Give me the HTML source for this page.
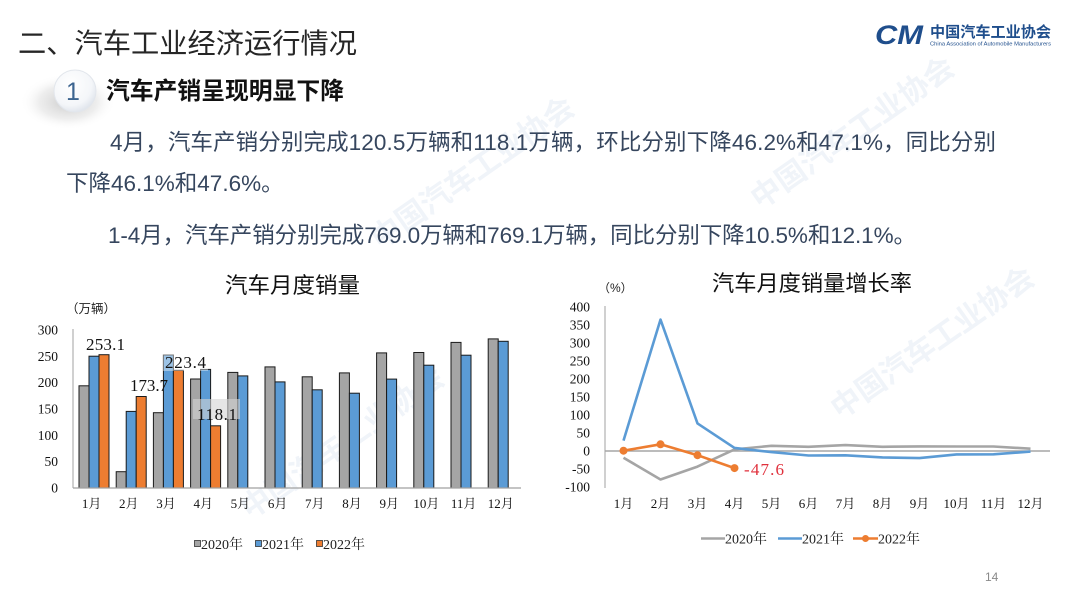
<!DOCTYPE html>
<html><head><meta charset="utf-8"><style>
html,body{margin:0;padding:0;background:#fff;}
svg{display:block;}
.cjk{font-family:"Liberation Sans","Noto Sans CJK SC",sans-serif;}
.ser{font-family:"Liberation Serif","Noto Serif CJK SC","Noto Sans CJK SC",serif;}
.mono{font-family:"Liberation Mono","Noto Sans CJK SC",monospace;}
</style></head><body>
<svg width="1080" height="604" viewBox="0 0 1080 604" xmlns="http://www.w3.org/2000/svg">
<defs>
<radialGradient id="sh" cx="0.5" cy="0.5" r="0.5">
<stop offset="0" stop-color="#c4c4c4" stop-opacity="0.9"/>
<stop offset="0.6" stop-color="#dcdcdc" stop-opacity="0.5"/>
<stop offset="1" stop-color="#ffffff" stop-opacity="0"/>
</radialGradient>
<radialGradient id="cg" cx="0.4" cy="0.35" r="0.7">
<stop offset="0" stop-color="#ffffff"/>
<stop offset="0.7" stop-color="#f4f6f9"/>
<stop offset="1" stop-color="#dde2ea"/>
</radialGradient>
</defs>
<rect width="1080" height="604" fill="#fff"/>

<!-- watermarks -->
<g class="cjk" fill="#f0f4f9" font-weight="bold" font-size="30">
<text x="380" y="250" transform="rotate(-35 380 250)">中国汽车工业协会</text>
<text x="760" y="210" transform="rotate(-35 760 210)">中国汽车工业协会</text>
<text x="250" y="520" transform="rotate(-35 250 520)">中国汽车工业协会</text>
<text x="840" y="420" transform="rotate(-35 840 420)">中国汽车工业协会</text>
</g>

<!-- header -->
<text class="cjk" x="18" y="53" font-size="28" fill="#262626" textLength="339" lengthAdjust="spacingAndGlyphs">二、汽车工业经济运行情况</text>

<!-- logo -->
<text x="875" y="44" font-family="Liberation Sans,sans-serif" font-size="27" font-weight="bold" font-style="italic" fill="#1f4e8c" textLength="48" lengthAdjust="spacingAndGlyphs">CM</text>
<text class="cjk" x="930" y="37" font-size="15" font-weight="bold" fill="#1f4e8c" textLength="121" lengthAdjust="spacingAndGlyphs">中国汽车工业协会</text>
<text x="930" y="45.5" font-family="Liberation Sans,sans-serif" font-size="5.5" fill="#1f4e8c" textLength="121" lengthAdjust="spacingAndGlyphs">China Association of Automobile Manufacturers</text>

<!-- section number -->
<ellipse cx="68" cy="102" rx="48" ry="28" fill="url(#sh)"/>
<circle cx="75" cy="91" r="21" fill="url(#cg)" stroke="#e2e6ec" stroke-width="1"/>
<text x="73" y="100" text-anchor="middle" font-family="Liberation Sans,sans-serif" font-size="25" fill="#3d6590">1</text>
<text class="cjk" x="106" y="99" font-size="24" font-weight="bold" fill="#111" textLength="238" lengthAdjust="spacingAndGlyphs">汽车产销呈现明显下降</text>

<!-- paragraph -->
<g class="cjk" font-size="22.5" fill="#36465e">
<text x="110" y="150" textLength="886" lengthAdjust="spacing">4月，汽车产销分别完成120.5万辆和118.1万辆，环比分别下降46.2%和47.1%，同比分别</text>
<text x="66" y="191">下降46.1%和47.6%。</text>
<text x="108" y="243" textLength="808" lengthAdjust="spacing">1-4月，汽车产销分别完成769.0万辆和769.1万辆，同比分别下降10.5%和12.1%。</text>
</g>

<!-- ===== LEFT CHART ===== -->
<text class="cjk" x="225" y="293" font-size="22" fill="#111" textLength="135" lengthAdjust="spacingAndGlyphs">汽车月度销量</text>
<text class="cjk" x="66" y="313" font-size="12.5" fill="#222">（万辆）</text>

<g class="ser" font-size="13.5" fill="#111" text-anchor="end">
<text x="58" y="334.5">300</text>
<text x="58" y="360.8">250</text>
<text x="58" y="387.2">200</text>
<text x="58" y="413.5">150</text>
<text x="58" y="439.8">100</text>
<text x="58" y="466.2">50</text>
<text x="58" y="492.5">0</text>
</g>
<line x1="73" y1="329" x2="73" y2="488" stroke="#a0a0a0" stroke-width="1"/>

<g stroke="#1a1a1a" stroke-width="1">
<g fill="#a5a5a5">
<rect x="79" y="385.8" width="10" height="102.2"/>
<rect x="116.2" y="471.7" width="10" height="16.3"/>
<rect x="153.4" y="412.7" width="10" height="75.3"/>
<rect x="190.6" y="379" width="10" height="109"/>
<rect x="227.8" y="372.4" width="10" height="115.6"/>
<rect x="265" y="366.9" width="10" height="121.1"/>
<rect x="302.2" y="376.8" width="10" height="111.2"/>
<rect x="339.4" y="372.9" width="10" height="115.1"/>
<rect x="376.6" y="352.9" width="10" height="135.1"/>
<rect x="413.8" y="352.5" width="10" height="135.5"/>
<rect x="451" y="342.4" width="10" height="145.6"/>
<rect x="488.2" y="338.9" width="10" height="149.1"/>
</g>
<g fill="#5b9bd5">
<rect x="89" y="356.2" width="10" height="131.8"/>
<rect x="126.2" y="411.4" width="10" height="76.6"/>
<rect x="163.4" y="355" width="10" height="133"/>
<rect x="200.6" y="369.4" width="10" height="118.6"/>
<rect x="237.8" y="375.9" width="10" height="112.1"/>
<rect x="275" y="381.9" width="10" height="106.1"/>
<rect x="312.2" y="389.8" width="10" height="98.2"/>
<rect x="349.4" y="393.2" width="10" height="94.8"/>
<rect x="386.6" y="379.1" width="10" height="108.9"/>
<rect x="423.8" y="365.2" width="10" height="122.8"/>
<rect x="461" y="355.2" width="10" height="132.8"/>
<rect x="498.2" y="341.3" width="10" height="146.7"/>
</g>
<g fill="#ed7d31">
<rect x="99" y="354.7" width="10" height="133.3"/>
<rect x="136.2" y="396.5" width="10" height="91.5"/>
<rect x="173.4" y="370.3" width="10" height="117.7"/>
<rect x="210.6" y="425.8" width="10" height="62.2"/>
</g>
</g>
<line x1="73" y1="488" x2="521" y2="488" stroke="#a0a0a0" stroke-width="1.2"/>

<!-- data labels -->
<rect x="163" y="352" width="45" height="19" fill="#ffffff" fill-opacity="0.4"/>
<rect x="193" y="399" width="47" height="20" fill="#d4d4d4" fill-opacity="0.6"/>
<g class="ser" font-size="17" fill="#111">
<text x="86" y="350" textLength="39" lengthAdjust="spacing">253.1</text>
<text x="130" y="391" textLength="38" lengthAdjust="spacing">173.7</text>
<text x="165" y="368" textLength="41" lengthAdjust="spacing">223.4</text>
<text x="197" y="420" textLength="40" lengthAdjust="spacing">118.1</text>
</g>

<g class="ser" font-size="13" fill="#111" text-anchor="middle">
<text x="91.6" y="508">1月</text>
<text x="128.8" y="508">2月</text>
<text x="166" y="508">3月</text>
<text x="203.2" y="508">4月</text>
<text x="240.4" y="508">5月</text>
<text x="277.6" y="508">6月</text>
<text x="314.8" y="508">7月</text>
<text x="352" y="508">8月</text>
<text x="389.2" y="508">9月</text>
<text x="426.4" y="508">10月</text>
<text x="463.6" y="508">11月</text>
<text x="500.8" y="508">12月</text>
</g>

<!-- left legend -->
<g stroke="#333" stroke-width="0.8">
<rect x="194.5" y="540.5" width="6" height="6" fill="#a5a5a5"/>
<rect x="255.5" y="540.5" width="6" height="6" fill="#5b9bd5"/>
<rect x="316.5" y="540.5" width="6" height="6" fill="#ed7d31"/>
</g>
<g class="ser" font-size="14" fill="#222">
<text x="201" y="549">2020年</text>
<text x="262" y="549">2021年</text>
<text x="323" y="549">2022年</text>
</g>

<!-- ===== RIGHT CHART ===== -->
<text class="cjk" x="712" y="291" font-size="22" fill="#111" textLength="200" lengthAdjust="spacingAndGlyphs">汽车月度销量增长率</text>
<text class="cjk" x="598" y="292" font-size="12" fill="#222">（%）</text>

<g class="ser" font-size="13.5" fill="#111" text-anchor="end">
<text x="590" y="311.5">400</text>
<text x="590" y="329.5">350</text>
<text x="590" y="347.5">300</text>
<text x="590" y="365.5">250</text>
<text x="590" y="383.5">200</text>
<text x="590" y="401.5">150</text>
<text x="590" y="419.5">100</text>
<text x="590" y="437.5">50</text>
<text x="590" y="455.5">0</text>
<text x="590" y="473.5">-50</text>
<text x="590" y="491.5">-100</text>
</g>
<line x1="605" y1="306" x2="605" y2="488" stroke="#a0a0a0" stroke-width="1"/>
<line x1="605" y1="451" x2="1050" y2="451" stroke="#a6a6a6" stroke-width="1.5"/>

<polyline fill="none" stroke="#a5a5a5" stroke-width="2.6" stroke-linejoin="round" points="623.5,457.7 660.5,479.5 697.5,466.6 734.5,449.4 771.5,445.8 808.5,446.8 845.5,445.1 882.5,446.8 919.5,446.4 956.5,446.5 993.5,446.5 1030.5,448.7"/>
<polyline fill="none" stroke="#5b9bd5" stroke-width="2.6" stroke-linejoin="round" points="623.5,440.6 660.5,319.6 697.5,423.4 734.5,447.9 771.5,452.1 808.5,455.5 845.5,455.3 882.5,457.4 919.5,458.1 956.5,454.4 993.5,454.3 1030.5,451.6"/>
<polyline fill="none" stroke="#ed7d31" stroke-width="2.6" stroke-linejoin="round" points="623.5,450.7 660.5,444.3 697.5,455.2 734.5,468.1"/>
<g fill="#ed7d31">
<circle cx="623.5" cy="450.7" r="4"/>
<circle cx="660.5" cy="444.3" r="4"/>
<circle cx="697.5" cy="455.2" r="4"/>
<circle cx="734.5" cy="468.1" r="4"/>
</g>
<text class="ser" x="744" y="475" font-size="17" fill="#e0303c" textLength="40" lengthAdjust="spacing">-47.6</text>

<g class="ser" font-size="13" fill="#111" text-anchor="middle">
<text x="623.5" y="508">1月</text>
<text x="660.5" y="508">2月</text>
<text x="697.5" y="508">3月</text>
<text x="734.5" y="508">4月</text>
<text x="771.5" y="508">5月</text>
<text x="808.5" y="508">6月</text>
<text x="845.5" y="508">7月</text>
<text x="882.5" y="508">8月</text>
<text x="919.5" y="508">9月</text>
<text x="956.5" y="508">10月</text>
<text x="993.5" y="508">11月</text>
<text x="1030.5" y="508">12月</text>
</g>

<!-- right legend -->
<line x1="701" y1="538.5" x2="725" y2="538.5" stroke="#a5a5a5" stroke-width="2.5"/>
<line x1="778" y1="538.5" x2="802" y2="538.5" stroke="#5b9bd5" stroke-width="2.5"/>
<line x1="853" y1="538.5" x2="878" y2="538.5" stroke="#ed7d31" stroke-width="2.5"/>
<circle cx="865.5" cy="538.5" r="3.5" fill="#ed7d31"/>
<g class="ser" font-size="14" fill="#222">
<text x="725" y="543.5">2020年</text>
<text x="802" y="543.5">2021年</text>
<text x="878" y="543.5">2022年</text>
</g>

<!-- page number -->
<text x="985" y="581" font-family="Liberation Sans,sans-serif" font-size="12" fill="#8a8a8a">14</text>
</svg>
</body></html>
